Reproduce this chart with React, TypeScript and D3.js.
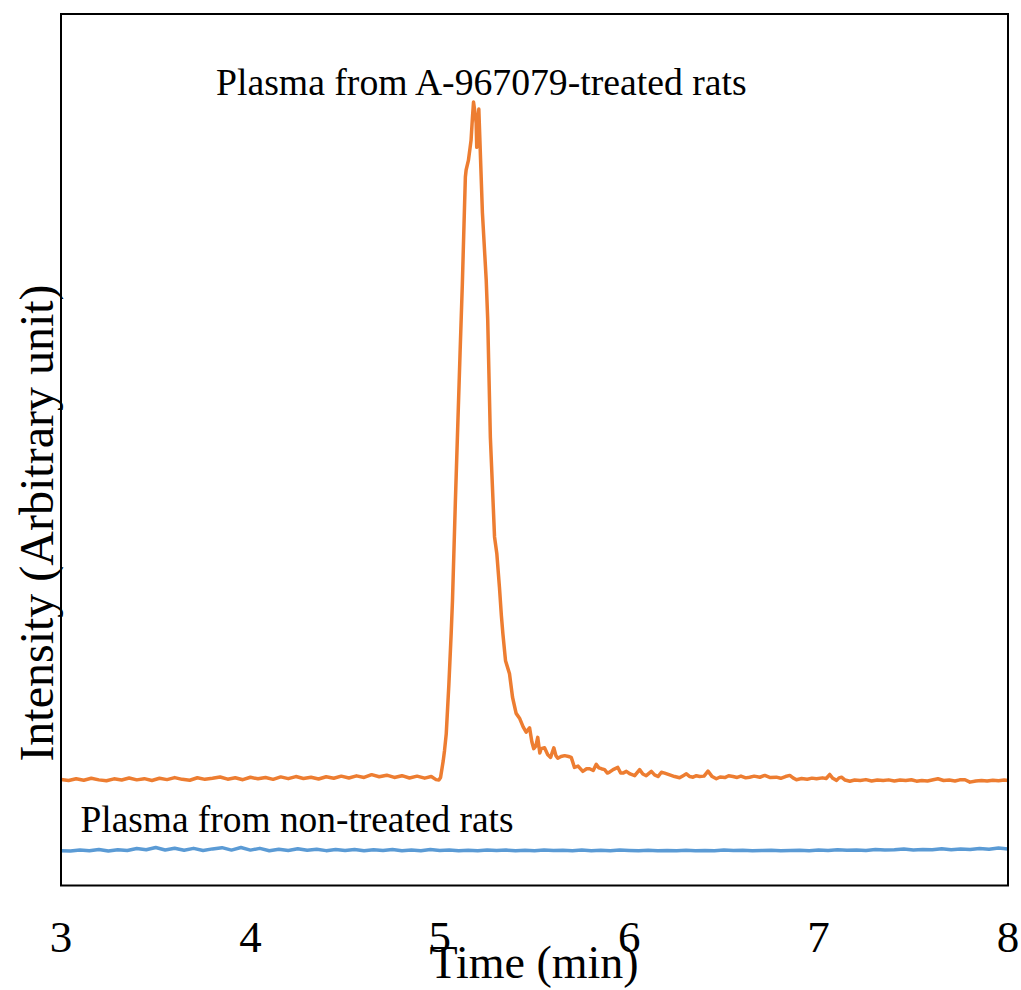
import React from "react";
import * as d3 from "d3";

// Orange trace: plasma from A-967079-treated rats
const treatedTime = [
  3.00, 3.04, 3.08, 3.12, 3.16, 3.20, 3.24, 3.28, 3.32, 3.36, 3.40, 3.44, 3.48, 3.52, 3.56, 3.60, 3.64, 3.68, 3.72, 3.76,
  3.80, 3.84, 3.88, 3.92, 3.96, 4.00, 4.04, 4.08, 4.12, 4.16, 4.20, 4.24, 4.28, 4.32, 4.36, 4.40, 4.44, 4.48, 4.52, 4.56,
  4.60, 4.64, 4.68, 4.72, 4.76, 4.80, 4.84, 4.88, 4.92, 4.955, 4.98, 4.995, 5.004, 5.018, 5.025, 5.034, 5.048, 5.060, 5.067, 5.082,
  5.107, 5.119, 5.128, 5.135, 5.139, 5.151, 5.165, 5.172, 5.178, 5.185, 5.192, 5.195, 5.200, 5.206, 5.213, 5.225, 5.245, 5.253, 5.267, 5.289,
  5.301, 5.315, 5.325, 5.333, 5.347, 5.368, 5.384, 5.403, 5.421, 5.440, 5.456, 5.474, 5.486, 5.496, 5.507, 5.517, 5.528, 5.535, 5.553, 5.570,
  5.585, 5.602, 5.613, 5.623, 5.640, 5.659, 5.680, 5.694, 5.711, 5.730, 5.755, 5.775, 5.791, 5.810, 5.826, 5.840, 5.853, 5.870, 5.885, 5.896,
  5.915, 5.940, 5.955, 5.967, 5.985, 6.005, 6.029, 6.055, 6.072, 6.090, 6.117, 6.134, 6.152, 6.170, 6.187, 6.214, 6.240, 6.266, 6.285, 6.302,
  6.320, 6.337, 6.355, 6.372, 6.395, 6.416, 6.438, 6.460, 6.480, 6.505, 6.525, 6.548, 6.570, 6.590, 6.615, 6.636, 6.660, 6.690, 6.716, 6.745,
  6.777, 6.800, 6.825, 6.848, 6.865, 6.883, 6.910, 6.940, 6.965, 6.989, 7.020, 7.040, 7.059, 7.075, 7.095, 7.108, 7.121, 7.140, 7.165, 7.190,
  7.220, 7.250, 7.280, 7.310, 7.341, 7.370, 7.400, 7.430, 7.460, 7.490, 7.517, 7.545, 7.575, 7.605, 7.630, 7.660, 7.690, 7.720, 7.745, 7.773,
  7.799, 7.830, 7.860, 7.890, 7.920, 7.950, 7.980, 8.000,
];
const treatedIntensity = [
  12.17, 12.05, 12.25, 12.08, 12.30, 12.12, 12.02, 12.24, 12.10, 12.34, 12.12, 12.26, 12.05, 12.30, 12.15, 12.38, 12.18, 12.08, 12.36, 12.18,
  12.30, 12.45, 12.20, 12.36, 12.14, 12.42, 12.24, 12.40, 12.18, 12.46, 12.26, 12.50, 12.28, 12.42, 12.22, 12.48, 12.30, 12.55, 12.34, 12.58,
  12.40, 12.72, 12.48, 12.66, 12.40, 12.60, 12.34, 12.55, 12.32, 12.50, 12.15, 12.10, 12.40, 14.30, 15.50, 17.40, 23.10, 28.90, 32.70, 43.90,
  61.10, 69.00, 76.00, 81.30, 82.10, 83.20, 85.50, 88.00, 89.90, 88.80, 87.50, 84.70, 86.50, 89.10, 84.70, 77.20, 69.50, 64.90, 51.40, 40.00,
  38.10, 34.20, 31.00, 28.90, 25.80, 24.30, 21.60, 19.75, 19.20, 18.20, 17.60, 18.10, 16.50, 15.70, 16.00, 17.00, 15.20, 15.70, 15.80, 15.00,
  14.70, 15.80, 14.90, 14.60, 14.80, 14.90, 14.80, 14.70, 13.55, 13.70, 13.10, 13.40, 13.40, 13.20, 13.90, 13.50, 13.40, 13.30, 12.90, 13.00,
  13.30, 13.55, 12.90, 12.90, 13.10, 12.80, 12.60, 13.30, 12.80, 12.60, 13.10, 12.70, 12.50, 13.00, 12.90, 12.70, 12.50, 12.36, 12.60, 12.82,
  12.50, 12.43, 12.60, 12.51, 12.55, 13.12, 12.50, 12.25, 12.45, 12.38, 12.60, 12.51, 12.40, 12.55, 12.35, 12.43, 12.55, 12.42, 12.63, 12.38,
  12.43, 12.30, 12.50, 12.63, 12.35, 12.14, 12.28, 12.20, 12.32, 12.25, 12.35, 12.28, 12.74, 12.30, 12.06, 12.35, 12.43, 12.10, 11.97, 12.10,
  12.05, 12.15, 12.00, 12.10, 12.06, 12.12, 12.00, 12.10, 12.05, 12.14, 11.97, 12.06, 12.00, 12.14, 12.25, 12.05, 12.10, 12.00, 12.12, 12.14,
  11.86, 12.00, 12.05, 11.98, 12.08, 12.02, 12.10, 12.06,
];

// Blue trace: plasma from non-treated rats
const controlTime = [
  3.00, 3.05, 3.10, 3.15, 3.20, 3.25, 3.30, 3.35, 3.40, 3.45, 3.50, 3.55, 3.60, 3.65, 3.70, 3.75, 3.80, 3.85, 3.90, 3.95,
  4.00, 4.05, 4.10, 4.15, 4.20, 4.25, 4.30, 4.35, 4.40, 4.45, 4.50, 4.55, 4.60, 4.65, 4.70, 4.75, 4.80, 4.85, 4.90, 4.95,
  5.00, 5.05, 5.10, 5.15, 5.20, 5.25, 5.30, 5.35, 5.40, 5.45, 5.50, 5.55, 5.60, 5.65, 5.70, 5.75, 5.80, 5.85, 5.90, 5.95,
  6.00, 6.05, 6.10, 6.15, 6.20, 6.25, 6.30, 6.35, 6.40, 6.45, 6.50, 6.55, 6.60, 6.65, 6.70, 6.75, 6.80, 6.85, 6.90, 6.95,
  7.00, 7.05, 7.10, 7.15, 7.20, 7.25, 7.30, 7.35, 7.40, 7.45, 7.50, 7.55, 7.60, 7.65, 7.70, 7.75, 7.80, 7.85, 7.90, 7.95,
  8.00,
];
const controlIntensity = [
  4.00, 3.95, 4.08, 4.00, 4.14, 3.96, 4.10, 4.02, 4.24, 4.10, 4.36, 4.08, 4.28, 4.04, 4.26, 4.02, 4.20, 4.34, 4.06, 4.36,
  4.06, 4.26, 3.98, 4.16, 4.02, 4.22, 4.04, 4.16, 4.00, 4.12, 4.02, 4.14, 3.98, 4.10, 4.02, 4.14, 4.00, 4.08, 3.98, 4.12,
  4.02, 4.06, 3.98, 4.04, 4.00, 4.08, 4.02, 4.06, 3.98, 4.04, 4.00, 4.08, 4.02, 4.04, 3.98, 4.06, 4.00, 4.04, 4.00, 4.06,
  4.02, 4.00, 4.04, 3.98, 4.02, 4.00, 4.05, 4.00, 4.03, 4.00, 4.06, 4.02, 4.04, 4.00, 4.02, 4.05, 4.00, 4.02, 4.04, 4.00,
  4.06, 4.02, 4.10, 4.04, 4.08, 4.02, 4.12, 4.06, 4.10, 4.18, 4.08, 4.14, 4.10, 4.22, 4.10, 4.20, 4.12, 4.24, 4.16, 4.30,
  4.20,
];

const xTicks = [3, 4, 5, 6, 7, 8];
const xLabel = "Time (min)";
const yLabel = "Intensity (Arbitrary unit)";
const treatedLabel = "Plasma from A-967079-treated rats";
const controlLabel = "Plasma from non-treated rats";

export default function App() {
  const W = 1021;
  const H = 990;
  const left = 61;
  const right = 1008;
  const top = 14;
  const bottom = 885.5;

  const x = d3.scaleLinear().domain([3, 8]).range([left, right]);
  const y = d3.scaleLinear().domain([0, 100]).range([bottom, top]);

  const line = d3
    .line<[number, number]>()
    .x((d) => x(d[0]))
    .y((d) => y(d[1]));

  const treated = treatedTime.map((t, i) => [t, treatedIntensity[i]] as [number, number]);
  const control = controlTime.map((t, i) => [t, controlIntensity[i]] as [number, number]);

  const font = "'Liberation Serif', 'Times New Roman', serif";

  return (
    <svg
      width={W}
      height={H}
      style={{ position: "absolute", left: 0, top: 0, background: "#fff" }}
      fontFamily={font}
    >
      <rect x={0} y={0} width={W} height={H} fill="#fff" />
      <path d={line(control) ?? ""} fill="none" stroke="#5B9BD5" strokeWidth={3.5} strokeLinejoin="round" />
      <path d={line(treated) ?? ""} fill="none" stroke="#ED7D31" strokeWidth={3.5} strokeLinejoin="round" />
      <rect
        x={left}
        y={top}
        width={right - left}
        height={bottom - top}
        fill="none"
        stroke="#000"
        strokeWidth={2}
      />
      {xTicks.map((t) => (
        <text key={t} x={x(t)} y={952} textAnchor="middle" fontSize={45} fill="#000">
          {t}
        </text>
      ))}
      <text x={534} y={978} textAnchor="middle" fontSize={46} fill="#000">
        {xLabel}
      </text>
      <text
        transform={`translate(53, 523) rotate(-90)`}
        textAnchor="middle"
        fontSize={48}
        fill="#000"
      >
        {yLabel}
      </text>
      <text x={216} y={95} fontSize={37.7} fill="#000">
        {treatedLabel}
      </text>
      <text x={80.5} y={832} fontSize={37.4} fill="#000">
        {controlLabel}
      </text>
    </svg>
  );
}
